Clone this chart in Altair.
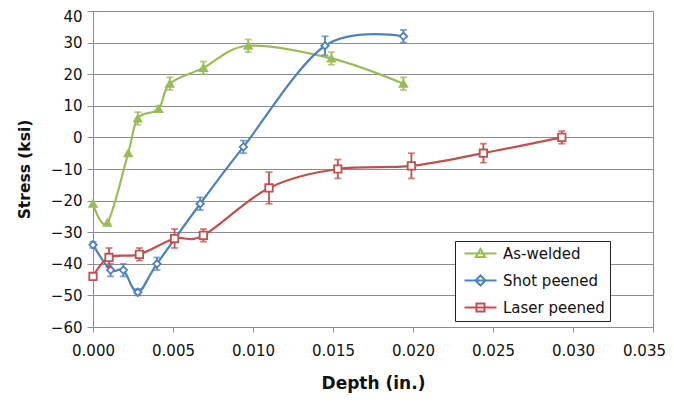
import altair as alt
import pandas as pd

# ---------------- data ----------------
series_names = ["As-welded", "Shot peened", "Laser peened"]
series_colors = ["#9BBB59", "#4F81BD", "#C0504D"]

aw_depth = [0.0000, 0.0009, 0.0022, 0.0028, 0.0041, 0.0048, 0.0069, 0.0097, 0.0149, 0.0194]
aw_stress = [-21, -27, -5, 6, 9, 17, 22, 29, 25, 17]
aw_err = [0, 0, 0, 2, 1, 2, 2, 2, 2, 2]

sp_depth = [0.0000, 0.0011, 0.0019, 0.0028, 0.0040, 0.0067, 0.0094, 0.0145, 0.0194]
sp_stress = [-34, -42, -42, -49, -40, -21, -3, 29, 32]
sp_err = [1, 2, 2, 1, 2, 2, 2, 3, 2]

lp_depth = [0.0000, 0.0010, 0.0029, 0.0051, 0.0069, 0.0110, 0.0153, 0.0199, 0.0244, 0.0293]
lp_stress = [-44, -38, -37, -32, -31, -16, -10, -9, -5, 0]
lp_err = [1, 3, 2, 3, 2, 5, 3, 4, 3, 2]

x_ticks = [0.000, 0.005, 0.010, 0.015, 0.020, 0.025, 0.030, 0.035]
y_ticks = [-60, -50, -40, -30, -20, -10, 0, 10, 20, 30, 40]

# ---------------- styling ----------------
marker_shapes = ["triangle-up", "diamond", "square"]
marker_fills = [series_colors[0], "white", "white"]
legend_paths = [
    "M-4,0H4M0,-1.15L1.15,0.85L-1.15,0.85Z",
    "M-4,0H4M0,-1.25L1.25,0L0,1.25L-1.25,0Z",
    "M-4,0H4M-1,-1H1V1H-1Z",
]
FONT = "DejaVu Sans"
GRID = "#8C8C8C"

frames = []
for name, d, s, e in [
    (series_names[0], aw_depth, aw_stress, aw_err),
    (series_names[1], sp_depth, sp_stress, sp_err),
    (series_names[2], lp_depth, lp_stress, lp_err),
]:
    df = pd.DataFrame({"depth": d, "stress": s, "err": e})
    df["lo"] = df["stress"] - df["err"]
    df["hi"] = df["stress"] + df["err"]
    df["series"] = name
    frames.append(df)
all_df = pd.concat(frames, ignore_index=True)

x_scale = alt.Scale(domain=[0, 0.035], nice=False, zero=False)
y_scale = alt.Scale(domain=[-60, 40], nice=False, zero=False)

x_axis = alt.Axis(
    values=x_ticks, format=".3f", title="Depth (in.)", grid=False, labelFlush=False,
    labelOffset=alt.ExprRef(expr="datum.value > 0.0349 ? -9 : 0"),
    labelFont=FONT, labelFontSize=15, labelColor="#111", labelPadding=11,
    tickSize=5, tickColor=GRID, domainColor=GRID, tickWidth=1, domainWidth=1,
    titleFont=FONT, titleFontSize=17, titleFontWeight="bold", titleColor="#111",
    titlePadding=17,
)
y_axis = alt.Axis(
    values=y_ticks, title="Stress (ksi)", grid=True, gridColor=GRID, gridWidth=1,
    labelFlush=False, labelOffset=alt.ExprRef(expr="datum.value > 39 ? 5 : 0"),
    labelFont=FONT, labelFontSize=15, labelColor="#111", labelPadding=5,
    tickSize=6, tickColor=GRID, domainColor=GRID, tickWidth=1, domainWidth=1,
    titleFont=FONT, titleFontSize=15.5, titleFontWeight="bold", titleColor="#111",
    titlePadding=18,
)


def X(field="depth"):
    return alt.X(f"{field}:Q", scale=x_scale, axis=x_axis)


def Y(field="stress"):
    return alt.Y(f"{field}:Q", scale=y_scale, axis=y_axis)


layers = []
for i, df in enumerate(frames):
    c = series_colors[i]
    base = alt.Chart(df)
    line = base.mark_line(interpolate="cardinal", tension=0, strokeWidth=2.2, color=c).encode(
        x=X(), y=Y()
    )
    eb = base.transform_filter("datum.err > 0")
    rule = eb.mark_rule(color=c, strokeWidth=1.8).encode(x=X(), y=Y("lo"), y2="hi:Q")
    cap_lo = eb.mark_tick(orient="horizontal", size=7, thickness=1.8, color=c).encode(x=X(), y=Y("lo"))
    cap_hi = eb.mark_tick(orient="horizontal", size=7, thickness=1.8, color=c).encode(x=X(), y=Y("hi"))
    pts = base.mark_point(
        shape=marker_shapes[i], size=55, filled=True, fill=marker_fills[i],
        stroke=c, strokeWidth=1.8, opacity=1, fillOpacity=1,
    ).encode(x=X(), y=Y())
    layers += [line, rule, cap_lo, cap_hi, pts]

legend_def = alt.Legend(
    title=None, orient="none", legendX=362, legendY=230, padding=5,
    strokeColor="#222", fillColor="white", cornerRadius=0,
    symbolSize=64, symbolStrokeWidth=2, symbolOffset=13, labelOffset=15,
    labelFont=FONT, labelFontSize=15, labelColor="#111", labelLimit=300,
    rowPadding=9,
)
legend_layer = alt.Chart(all_df).mark_point(opacity=0, filled=False).encode(
    x=X(), y=Y(),
    color=alt.Color("series:N", scale=alt.Scale(domain=series_names, range=series_colors), legend=legend_def),
    shape=alt.Shape("series:N", scale=alt.Scale(domain=series_names, range=legend_paths), legend=legend_def),
)
layers.append(legend_layer)

chart = alt.layer(*layers).properties(
    width=560, height=316,
    padding={"left": 85, "top": 3, "right": 13, "bottom": 67},
    autosize=alt.AutoSizeParams(type="none"),
).configure_view(stroke=GRID, strokeWidth=1)

chart.save("out.html", embed_options={"renderer": "svg", "actions": False})
